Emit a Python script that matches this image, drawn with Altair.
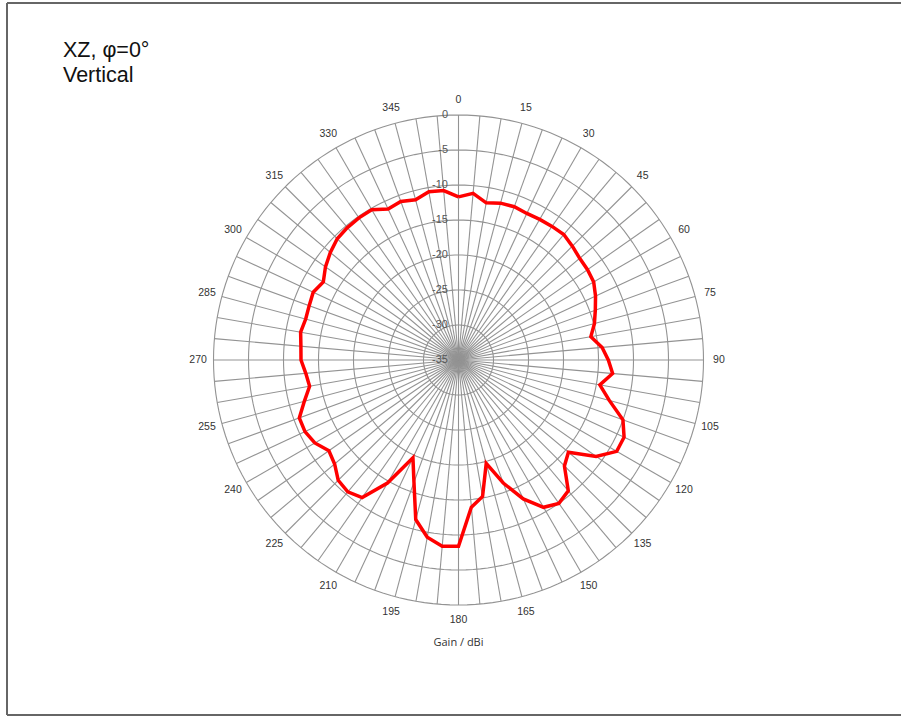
import math
import altair as alt
import pandas as pd

# Gain pattern, XZ cut (phi = 0 deg), vertical polarisation
angles = list(range(0, 365, 5))
gains = [
    -11.7, -11.1, -12.2, -11.8, -11.7, -11.9, -11.8, -11.7, -11.6, -12.0,   # 0-45
    -12.4, -12.5, -12.7, -13.4, -14.2, -14.9, -15.8, -14.4, -13.6, -12.9,   # 50-95
    -14.5, -12.7, -10.0, -8.9, -8.9, -11.0, -14.5, -13.6, -10.6, -10.0,     # 100-145
    -10.7, -13.1, -16.3, -19.7, -15.2, -13.9, -8.4, -8.3, -9.3, -11.4,      # 150-195
    -16.4, -19.6, -14.7, -11.0, -10.4, -10.7, -11.9, -12.4, -11.3, -10.8,   # 200-245
    -10.8, -12.2, -13.4, -13.1, -12.5, -12.4, -12.1, -12.4, -12.3, -12.1,   # 250-295
    -12.7, -11.8, -11.1, -10.5, -10.3, -10.2, -10.2, -11.2, -10.9, -11.3,   # 300-345
    -10.6, -10.7, -11.7,                                                    # 350-360
]

ring_levels = [-30, -25, -20, -15, -10, -5, 0]
radial_labels = ["-35", "-30", "-25", "-20", "-15", "-10", "-5", "0"]
radial_values = [-35, -30, -25, -20, -15, -10, -5, 0]
spoke_angles = list(range(0, 360, 5))
angle_labels = list(range(0, 360, 15))
heading_lines = ["XZ, φ=0°", "Vertical"]

FLOOR = -35          # gain at the pole
PX_PER_DB = 7.0      # pixels per dB
CX, CY = 458.5, 360  # pole position in the view
W, H = 901, 719

x_scale = alt.Scale(domain=[-CX / PX_PER_DB, (W - CX) / PX_PER_DB], nice=False, zero=False)
y_scale = alt.Scale(domain=[-(H - CY) / PX_PER_DB, CY / PX_PER_DB], nice=False, zero=False)


def polar_xy(chart, gain_field, angle_field, offset=0.0):
    r = f"(datum.{gain_field} - ({FLOOR}) + {offset})"
    a = f"(datum.{angle_field} * PI / 180)"
    return chart.transform_calculate(px=f"{r} * sin({a})", py=f"{r} * cos({a})")


X = alt.X("px:Q", scale=x_scale, axis=None)
Y = alt.Y("py:Q", scale=y_scale, axis=None)
GRID = "#939393"

# Concentric gain rings
ring_df = pd.DataFrame(
    [{"level": lv, "ang": a} for lv in ring_levels for a in range(0, 361, 2)]
)
rings = polar_xy(alt.Chart(ring_df), "level", "ang").mark_line(
    color=GRID, strokeWidth=1.1, interpolate="linear"
).encode(x=X, y=Y, detail="level:N", order="ang:Q")

# Angular spokes from the pole to the 0 dB ring
spoke_df = pd.DataFrame({"ang": spoke_angles, "outer": 0})
spokes = (
    alt.Chart(spoke_df)
    .transform_calculate(
        px="0", py="0",
        px2=f"(datum.outer - ({FLOOR})) * sin(datum.ang * PI / 180)",
        py2=f"(datum.outer - ({FLOOR})) * cos(datum.ang * PI / 180)",
    )
    .mark_rule(color=GRID, strokeWidth=1.1)
    .encode(x=X, y=Y, x2="px2:Q", y2="py2:Q")
)

# Angle labels outside the 0 dB ring
alab_df = pd.DataFrame({"ang": angle_labels, "lab": [str(a) for a in angle_labels], "g": 0})
alabels = polar_xy(alt.Chart(alab_df), "g", "ang", offset=2.2).mark_text(
    font="Liberation Sans", fontSize=10.5, color="#333333", align="center", baseline="middle"
).encode(x=X, y=Y, text="lab:N")

# Gain labels along the 0 deg spoke
rlab_df = pd.DataFrame({"g": radial_values, "lab": radial_labels})
rlabels = (
    alt.Chart(rlab_df)
    .transform_calculate(px="-1.5", py=f"datum.g - ({FLOOR})")
    .mark_text(font="Liberation Sans", fontSize=11, color="#555555", align="right", baseline="middle")
    .encode(x=X, y=Y, text="lab:N")
)

# Measured pattern
trace_df = pd.DataFrame({"ang": angles, "gain": gains})
trace = polar_xy(alt.Chart(trace_df), "gain", "ang").mark_line(
    color="#ff0000", strokeWidth=3.5, strokeJoin="miter", interpolate="linear"
).encode(x=X, y=Y, order="ang:Q")

# Heading (two lines) and axis caption
heading = [
    alt.Chart(pd.DataFrame({"t": [line]})).mark_text(
        font="Liberation Sans", fontSize=21.5, color="#111111", align="left", baseline="alphabetic"
    ).encode(x=alt.value(63), y=alt.value(base), text="t:N")
    for line, base in zip(heading_lines, [57, 82])
]

caption = alt.Chart(pd.DataFrame({"t": ["Gain / dBi"]})).mark_text(
    font="Open Sans", fontSize=11, color="#333333", align="center", baseline="middle"
).encode(x=alt.value(CX), y=alt.value(643), text="t:N")

# Page frame (left, top, bottom edges)
frame_df = pd.DataFrame({"x1": [7, 7, 7], "x2": [7, 905, 905], "y1": [3, 3, 715], "y2": [715, 3, 715]})
frame = alt.Chart(frame_df).mark_rule(color="#666666", strokeWidth=2).encode(
    x=alt.X("x1:Q", scale=alt.Scale(domain=[0, W], range=[0, W]), axis=None),
    x2="x2:Q",
    y=alt.Y("y1:Q", scale=alt.Scale(domain=[0, H], range=[0, H]), axis=None),
    y2="y2:Q",
)

polar = alt.layer(spokes, rings, trace, alabels, rlabels)

chart = (
    alt.layer(polar, *heading, caption, frame)
    .resolve_scale(x="independent", y="independent")
    .properties(width=W, height=H, padding=0, autosize=alt.AutoSizeParams(type="none"), background="white")
    .configure_view(stroke=None)
)

chart.save("out.html", embed_options={"renderer": "svg", "actions": False})
